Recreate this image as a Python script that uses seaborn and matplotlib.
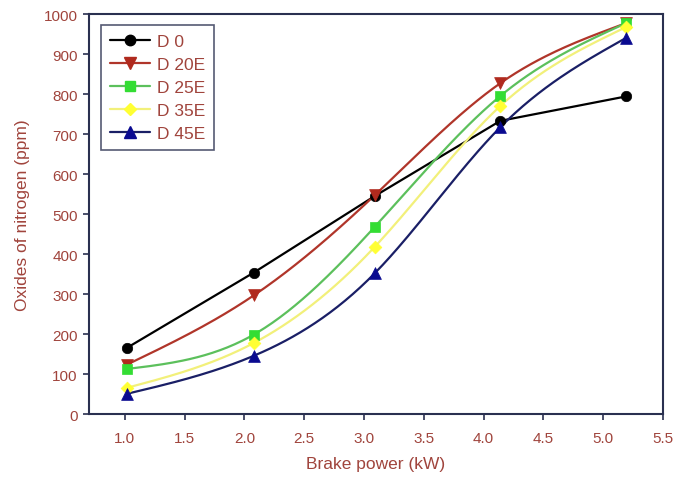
import numpy as np
import pandas as pd
import matplotlib
matplotlib.use("Agg")
import matplotlib.pyplot as plt
import seaborn as sns
from matplotlib.lines import Line2D

# ---- data ----
brake_power = [1.02, 2.08, 3.09, 4.14, 5.19]
d0 = [166, 354, 545, 733, 794]
d20e = [124, 297, 547, 827, 977]
d25e = [113, 199, 468, 795, 977]
d35e = [66, 178, 418, 770, 967]
d45e = [51, 146, 352, 717, 940]
series_names = ["D 0", "D 20E", "D 25E", "D 35E", "D 45E"]
x_ticks = [1.0, 1.5, 2.0, 2.5, 3.0, 3.5, 4.0, 4.5, 5.0, 5.5]
y_ticks = [0, 100, 200, 300, 400, 500, 600, 700, 800, 900, 1000]

series_vals = [d0, d20e, d25e, d35e, d45e]
line_colors = ["#000000", "#B0352A", "#5CC05C", "#F2F07A", "#1A1F66"]
marker_colors = ["#000000", "#B02A1E", "#33DD33", "#FFFF33", "#0A0A90"]
markers = ["o", "v", "s", "D", "^"]
msizes = [7.5, 8.5, 7.5, 6.5, 8.5]
smooth = [False, True, True, True, True]

text_color = "#A0443C"
spine_color = "#2A3050"


def natural_spline(x, y, n=200):
    x = np.asarray(x, float)
    y = np.asarray(y, float)
    k = len(x)
    h = np.diff(x)
    A = np.zeros((k, k))
    b = np.zeros(k)
    A[0, 0] = 1
    A[-1, -1] = 1
    for i in range(1, k - 1):
        A[i, i - 1] = h[i - 1]
        A[i, i] = 2 * (h[i - 1] + h[i])
        A[i, i + 1] = h[i]
        b[i] = 3 * ((y[i + 1] - y[i]) / h[i] - (y[i] - y[i - 1]) / h[i - 1])
    c = np.linalg.solve(A, b)
    xs = np.linspace(x[0], x[-1], n)
    ys = np.empty_like(xs)
    for j, xv in enumerate(xs):
        i = min(np.searchsorted(x, xv, side="right") - 1, k - 2)
        dx = xv - x[i]
        bi = (y[i + 1] - y[i]) / h[i] - h[i] * (2 * c[i] + c[i + 1]) / 3
        di = (c[i + 1] - c[i]) / (3 * h[i])
        ys[j] = y[i] + bi * dx + c[i] * dx ** 2 + di * dx ** 3
    return xs, ys


sns.set_theme(style="white")
plt.rcParams["font.family"] = ["Liberation Sans", "DejaVu Sans"]

fig = plt.figure(figsize=(6.73, 4.85), dpi=100)
ax = fig.add_axes([0.132, 0.144, 0.853, 0.825])

handles = []
for name, vals, lc, mc, mk, ms, sm in zip(series_names, series_vals, line_colors,
                                          marker_colors, markers, msizes, smooth):
    if sm:
        xs, ys = natural_spline(brake_power, vals)
    else:
        xs, ys = np.array(brake_power), np.array(vals)
    curve = pd.DataFrame({"x": xs, "y": ys})
    sns.lineplot(data=curve, x="x", y="y", ax=ax, color=lc, linewidth=1.6,
                 sort=False, estimator=None)
    pts = pd.DataFrame({"x": brake_power, "y": vals})
    sns.scatterplot(data=pts, x="x", y="y", ax=ax, marker=mk, color=mc,
                    s=ms ** 2, edgecolor=mc, linewidth=0.5, zorder=3)
    handles.append(Line2D([0], [0], color=lc, linewidth=1.6, marker=mk,
                          markersize=ms, markerfacecolor=mc, markeredgecolor=mc))

ax.set_xlim(0.7, 5.5)
ax.set_ylim(0, 1000)
ax.set_xticks(x_ticks)
ax.set_xticklabels([f"{v:.1f}" for v in x_ticks])
ax.set_yticks(y_ticks)
ax.set_yticklabels([str(v) for v in y_ticks])

for s in ax.spines.values():
    s.set_visible(True)
    s.set_color(spine_color)
    s.set_linewidth(1.5)

ax.tick_params(axis="both", which="major", direction="out", length=4, width=1.2,
               color=spine_color, labelcolor=text_color, labelsize=11, pad=4,
               bottom=True, left=True)
ax.tick_params(axis="x", pad=8)

ax.set_xlabel("Brake power (kW)", color=text_color, fontsize=12.5, labelpad=8)
ax.set_ylabel("Oxides of nitrogen (ppm)", color=text_color, fontsize=12.5, labelpad=10)

leg = ax.legend(handles, series_names, loc="upper left",
                bbox_to_anchor=(0.012, 0.985), frameon=True, fancybox=False,
                fontsize=12.5, handlelength=2.3, handletextpad=0.45,
                labelspacing=0.45, borderpad=0.5, borderaxespad=0.3)
leg.get_frame().set_edgecolor(spine_color)
leg.get_frame().set_linewidth(1.2)
for t in leg.get_texts():
    t.set_color(text_color)

fig.savefig("out.png", dpi=100)
